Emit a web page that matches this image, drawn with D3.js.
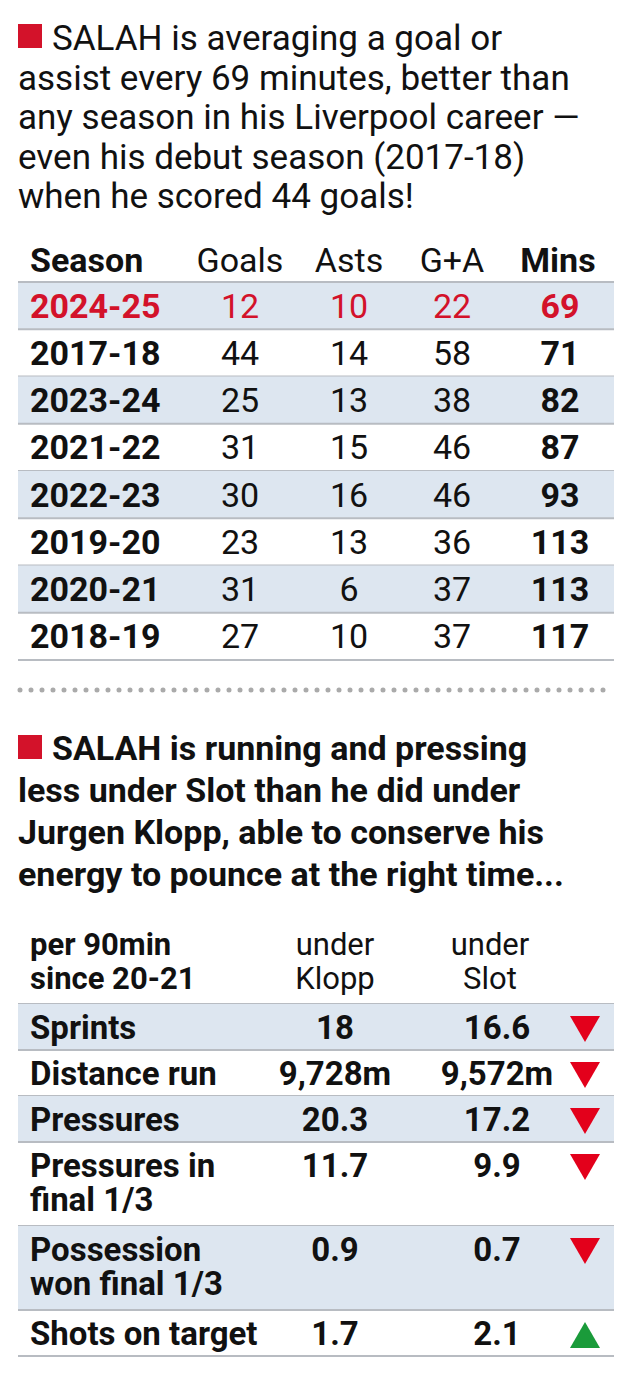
<!DOCTYPE html><html><head><meta charset="utf-8">
<script src="https://cdn.jsdelivr.net/npm/d3@7"></script>
<style>body{margin:0;background:#fff}</style></head><body>
<script>
const seasons=["2024-25","2017-18","2023-24","2021-22","2022-23","2019-20","2020-21","2018-19"];
const goals=[12,44,25,31,30,23,31,27];
const assists=[10,14,13,15,16,13,6,10];
const ga=[22,58,38,46,46,36,37,37];
const mins=[69,71,82,87,93,113,113,117];
const metrics=[["Sprints"],["Distance run"],["Pressures"],["Pressures in","final 1/3"],["Possession","won final 1/3"],["Shots on target"]];
const klopp=["18","9,728m","20.3","11.7","0.9","1.7"];
const slot=["16.6","9,572m","17.2","9.9","0.7","2.1"];
const trend=["down","down","down","down","down","up"];
const title1=["SALAH is averaging a goal or","assist every 69 minutes, better than","any season in his Liverpool career —","even his debut season (2017-18)","when he scored 44 goals!"];
const title2=["SALAH is running and pressing","less under Slot than he did under","Jurgen Klopp, able to conserve his","energy to pounce at the right time..."];

const F="'Roboto','DejaVu Sans Condensed',sans-serif";
const RED="#d3122a", SH="#dde6f0", LN="#b8bcc2";
const svg=d3.select("body").append("svg").attr("width",634).attr("height",1381).style("font-family",F);

svg.append("rect").attr("x",18).attr("y",24).attr("width",24).attr("height",24).attr("fill",RED);
title1.forEach((t,i)=>svg.append("text").attr("x",i?18:52).attr("y",50+i*39.5).attr("font-size",35).attr("fill","#111").text(t));

const y1=d3.scaleBand().domain(seasons).range([282,660]);
const cols=[240,349,452];
const g1=svg.append("g");
seasons.forEach((s,i)=>{
  const y=y1(s),h=y1.bandwidth(),c=i===0?RED:"#111";
  if(i%2===0) g1.append("rect").attr("x",18).attr("y",y).attr("width",596).attr("height",h).attr("fill",SH);
  g1.append("line").attr("x1",18).attr("x2",614).attr("y1",y+h).attr("y2",y+h).attr("stroke",LN).attr("stroke-width",2);
  const by=y+h/2+12;
  g1.append("text").attr("x",30).attr("y",by).attr("font-size",34).attr("font-weight","bold").attr("fill",c).text(s);
  [goals[i],assists[i],ga[i]].forEach((v,j)=>g1.append("text").attr("x",cols[j]).attr("y",by).attr("text-anchor","middle").attr("font-size",34).attr("fill",c).text(v));
  g1.append("text").attr("x",560).attr("y",by).attr("text-anchor","middle").attr("font-size",34).attr("font-weight","bold").attr("fill",c).text(mins[i]);
});
g1.append("line").attr("x1",18).attr("x2",614).attr("y1",282).attr("y2",282).attr("stroke",LN).attr("stroke-width",2);
[["Season",30,"start","bold"],["Goals",240,"middle","normal"],["Asts",349,"middle","normal"],["G+A",452,"middle","normal"],["Mins",558,"middle","bold"]]
 .forEach(([t,x,a,w])=>svg.append("text").attr("x",x).attr("y",272).attr("text-anchor",a).attr("font-weight",w).attr("font-size",34).attr("fill","#111").text(t));

svg.append("line").attr("x1",20).attr("x2",614).attr("y1",690).attr("y2",690).attr("stroke","#aaa").attr("stroke-width",5).attr("stroke-linecap","round").attr("stroke-dasharray","0,11");

svg.append("rect").attr("x",18).attr("y",735).attr("width",24).attr("height",24).attr("fill",RED);
title2.forEach((t,i)=>svg.append("text").attr("x",i?18:52).attr("y",760+i*42).attr("font-size",34).attr("font-weight","bold").attr("fill","#111").text(t));

const hts=metrics.map(m=>m.length===2?84:46);
let acc=1004; const tops=hts.map(h=>{const t=acc;acc+=h;return t;});
svg.append("text").attr("font-size",31).attr("font-weight","bold").attr("fill","#111")
  .selectAll("tspan").data(["per 90min","since 20-21"]).join("tspan").attr("x",30).attr("y",(d,i)=>955+i*34).text(d=>d);
[["under","Klopp",335],["under","Slot",490]].forEach(([a,b,x])=>svg.append("text").attr("font-size",31).attr("text-anchor","middle").attr("fill","#111")
  .selectAll("tspan").data([a,b]).join("tspan").attr("x",x).attr("y",(d,i)=>955+i*34).text(d=>d));
svg.append("line").attr("x1",18).attr("x2",614).attr("y1",1004).attr("y2",1004).attr("stroke",LN).attr("stroke-width",2);
metrics.forEach((m,i)=>{
  const y=tops[i],h=hts[i];
  if(i%2===0) svg.append("rect").attr("x",18).attr("y",y).attr("width",596).attr("height",h).attr("fill",SH);
  svg.append("line").attr("x1",18).attr("x2",614).attr("y1",y+h).attr("y2",y+h).attr("stroke",LN).attr("stroke-width",2);
  m.forEach((t,k)=>svg.append("text").attr("x",30).attr("y",y+35+k*34).attr("font-size",33).attr("font-weight","bold").attr("fill","#111").text(t));
  svg.append("text").attr("x",335).attr("y",y+35).attr("text-anchor","middle").attr("font-size",33).attr("font-weight","bold").attr("fill","#111").text(klopp[i]);
  svg.append("text").attr("x",497).attr("y",y+35).attr("text-anchor","middle").attr("font-size",33).attr("font-weight","bold").attr("fill","#111").text(slot[i]);
  const cx=585, ty=y+12;
  const p=trend[i]==="down"?`M${cx-15},${ty} L${cx+15},${ty} L${cx},${ty+26}Z`:`M${cx-15},${ty+26} L${cx+15},${ty+26} L${cx},${ty}Z`;
  svg.append("path").attr("d",p).attr("fill",trend[i]==="down"?"#e3001b":"#1a9b3a");
});
</script></body></html>
